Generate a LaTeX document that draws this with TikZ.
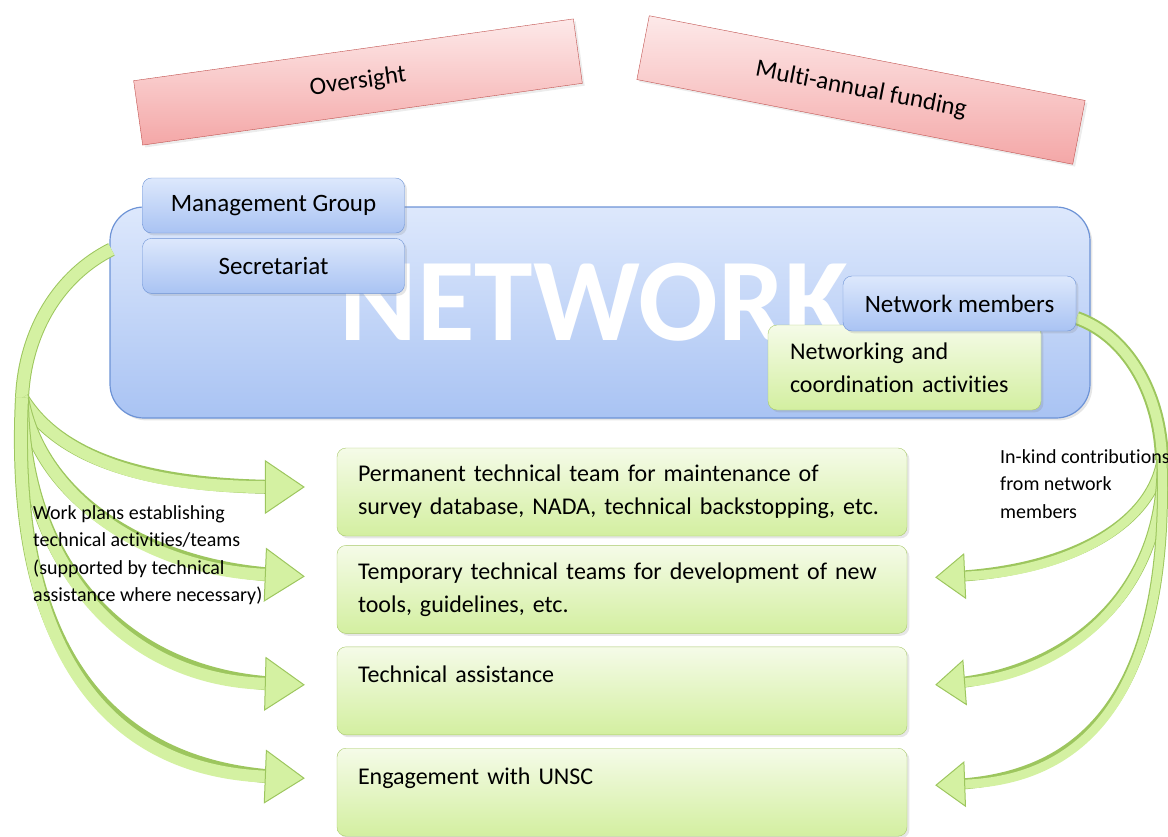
\documentclass[tikz,border=0pt]{standalone}
\usepackage{fontspec}
\setmainfont{Carlito}[Ligatures=NoCommon]
\usepackage{tikz}
\usetikzlibrary{shapes.geometric, arrows.meta, positioning, shadows}

\definecolor{pinkline}{HTML}{C0504D}
\definecolor{pinktop}{HTML}{FDE9E9}
\definecolor{pinkbot}{HTML}{F4A7A7}
\definecolor{blueline}{HTML}{6D93D6}
\definecolor{bluetop}{HTML}{DDE8FC}
\definecolor{bluebot}{HTML}{A9C3F3}
\definecolor{greenline}{HTML}{A8C96A}
\definecolor{greentop}{HTML}{F5FBE8}
\definecolor{greenbot}{HTML}{D3EFA0}
\definecolor{arrowfill}{HTML}{D4F1A2}
\definecolor{arrowline}{HTML}{9DC65E}

\tikzstyle{funder} = [rectangle, minimum width=444pt, minimum height=65pt, text centered, draw=pinkline, top color=pinktop, bottom color=pinkbot, font=\fontsize{25}{30}\selectfont, drop shadow={opacity=0.15}]
\tikzstyle{netbox} = [rectangle, rounded corners=34pt, minimum width=980pt, minimum height=211pt, draw=blueline, line width=1.2pt, top color=bluetop, bottom color=bluebot, drop shadow={opacity=0.2}]
\tikzstyle{unit} = [rectangle, rounded corners=9pt, minimum width=262pt, minimum height=55pt, text centered, draw=blueline, top color=bluetop, bottom color=bluebot, font=\fontsize{25}{30}\selectfont, drop shadow={opacity=0.2}]
\tikzstyle{activity} = [rectangle, rounded corners=9pt, inner xsep=21pt, text width=528pt, minimum height=88pt, align=left, draw=greenline, top color=greentop, bottom color=greenbot, font=\fontsize{24}{33}\selectfont, drop shadow={opacity=0.2}]
\tikzstyle{note} = [align=left, anchor=north west, inner sep=0pt, font=\fontsize{20}{27.5}\selectfont]
\tikzstyle{trunk} = [line width=12pt, draw=arrowfill, preaction={draw=arrowline, line width=14pt}]
\tikzstyle{arrow} = [line width=12pt, draw=arrowfill, preaction={-, draw=arrowline, line width=14pt, shorten >=18pt}, -{Triangle[length=40pt, width=54pt, line width=1pt, color=arrowline, fill=arrowfill]}]
\tikzstyle{rarrow} = [line width=9pt, draw=arrowfill, preaction={-, draw=arrowline, line width=11pt, shorten >=14pt}, -{Triangle[length=30pt, width=46pt, line width=1pt, color=arrowline, fill=arrowfill]}]

\begin{document}
\begin{tikzpicture}[x=1pt, y=-1pt]
	\useasboundingbox (0,0) rectangle (1168,836);

	\node (oversight) [funder, rotate=8] at (358,82) {Oversight};
	\node (funding) [funder, rotate=-11] at (861,90) {Multi-annual funding};

	\node (network) [netbox] at (600,312.5) {};
	\node (bigname) [anchor=base west, text=white, font=\fontsize{118}{118}\selectfont\bfseries] at (336,340) {NETWORK};

	\node (perm) [activity] at (622,492) {Permanent technical team for maintenance of\\survey database, NADA, technical backstopping, etc.};
	\node (temp) [activity, below=9pt of perm] {Temporary technical teams for development of new\\tools, guidelines, etc.};
	\node (tech) [activity, below=13pt of temp] {Technical assistance\\~};
	\node (engage) [activity, below=13pt of tech] {Engagement with UNSC\\~};

	\coordinate (lhub) at (22,398);
	\coordinate (rhub) at (1162,460);

	\draw [trunk] (network.north west) ++(2,43) .. controls (60,275) and (25,330) .. (lhub);
	\draw [arrow] (lhub) .. controls (60,460) and (150,487) .. ([shift={(-32,-5)}]perm.west);
	\draw [arrow] (lhub) .. controls (40,500) and (150,570) .. ([shift={(-32,-13)}]temp.west);
	\draw [arrow] (lhub) .. controls (22,560) and (120,680) .. ([shift={(-32,-6)}]tech.west);
	\draw [arrow] (lhub) .. controls (10,640) and (100,770) .. ([shift={(-32,-14)}]engage.west);

	\draw [trunk, line width=10pt, preaction={line width=12pt}] (network.east |- 0,318) ++(-14,0) .. controls (1125,335) and (1160,390) .. (rhub);
	\draw [rarrow] (rhub) .. controls (1150,530) and (1060,572) .. ([shift={(28,-12)}]temp.east);
	\draw [rarrow] (rhub) .. controls (1165,600) and (1060,675) .. ([shift={(28,-6)}]tech.east);
	\draw [rarrow] (rhub) .. controls (1170,700) and (1080,780) .. ([shift={(28,-7)}]engage.east);

	\node (mgmt) [unit] at (273.5,205.5) {Management Group};
	\node (secr) [unit, below=5pt of mgmt] {Secretariat};
	\node (coord) [activity, text width=229pt, inner xsep=22pt, minimum height=85pt] at (904.5,367.5) {Networking and\\coordination activities};
	\node (members) [unit, minimum width=233pt] at (959.5,303.5) {Network members};

	\node (plans) [note] at (33,505) {Work plans establishing\\technical activities/teams\\(supported by technical\\assistance where necessary)};
	\node (inkind) [note] at (1000,449) {In-kind contributions\\from network\\members};
\end{tikzpicture}
\end{document}
